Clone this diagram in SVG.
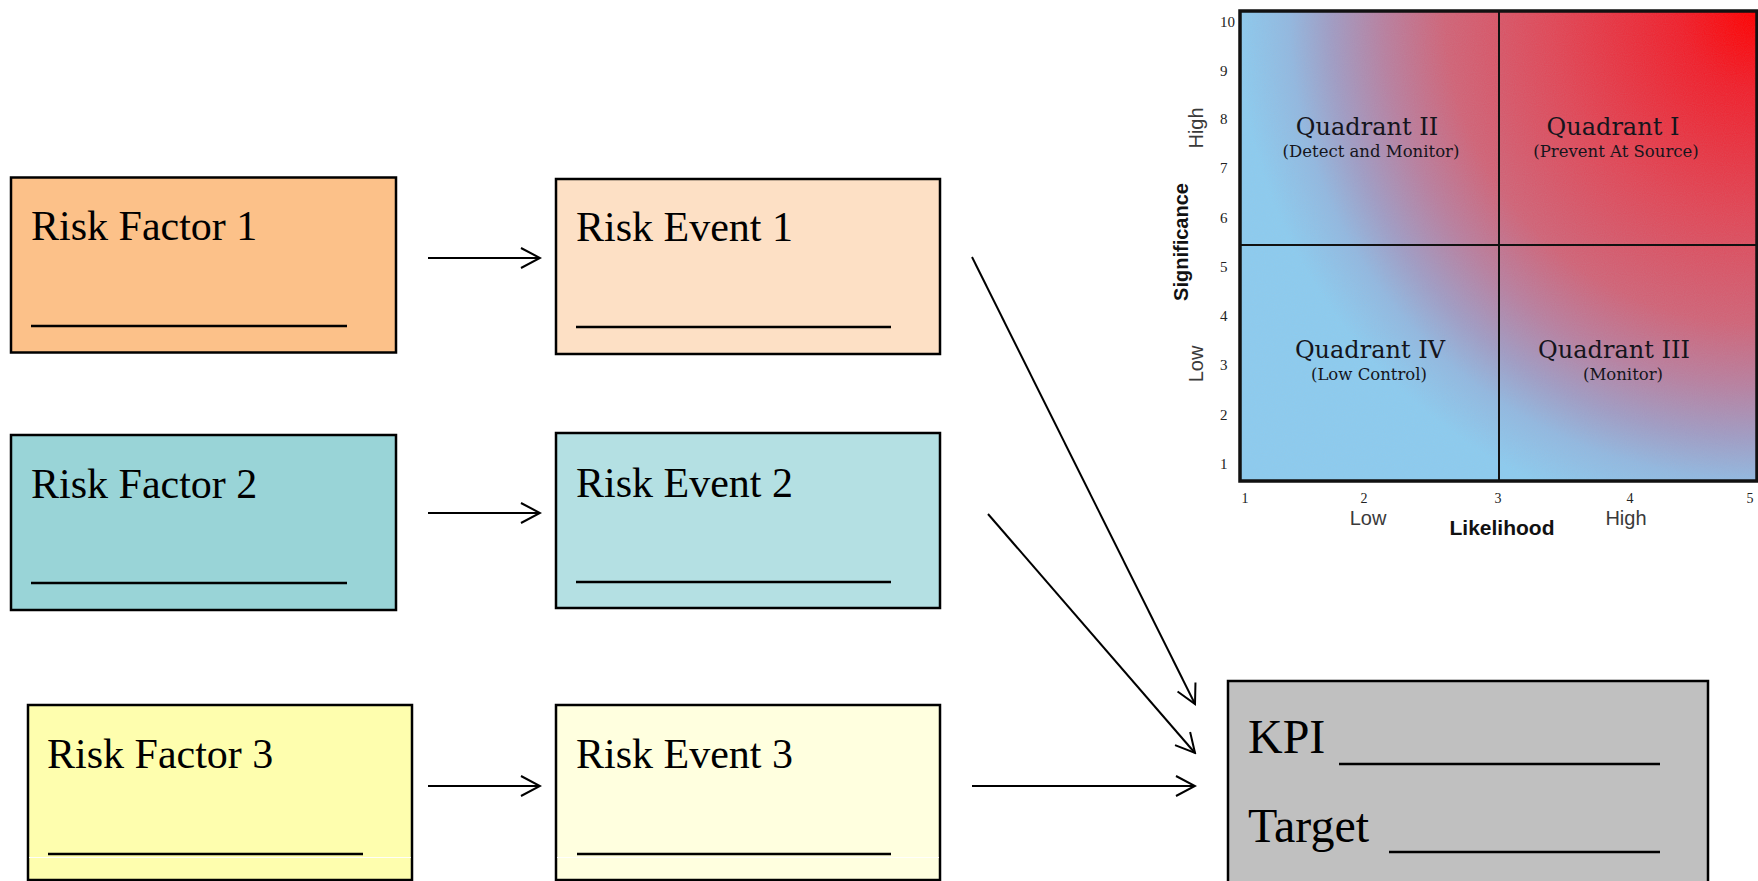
<svg xmlns="http://www.w3.org/2000/svg" width="1758" height="881" viewBox="0 0 1758 881">
  <defs>
    <style>
      .box { stroke: #000; stroke-width: 2.5; }
      .label { font-family: "Liberation Serif", "Times New Roman", serif; font-size: 42px; fill: #000; }
      .kpi { font-family: "Liberation Serif", "Times New Roman", serif; font-size: 48px; fill: #000; }
      .blank { stroke: #000; stroke-width: 2.6; }
      .sheen { stroke: #fff; stroke-width: 1; opacity: 0.9; }
      .conn { stroke: #000; stroke-width: 2; fill: none; marker-end: url(#chevron); }
      .qt { font-family: "DejaVu Serif", "Liberation Serif", serif; font-size: 24px; fill: #15151c; text-anchor: middle; }
      .qs { font-family: "DejaVu Serif", "Liberation Serif", serif; font-size: 16.5px; fill: #15151c; text-anchor: middle; }
      .tick { font-family: "Liberation Serif", "Times New Roman", serif; font-size: 15px; fill: #222; }
      .xtick { font-family: "Liberation Serif", "Times New Roman", serif; font-size: 14px; fill: #222; text-anchor: middle; }
      .axlvl { font-family: "Liberation Sans", Arial, sans-serif; font-size: 20px; fill: #3a3a3a; text-anchor: middle; }
      .axname { font-family: "Liberation Sans", Arial, sans-serif; font-size: 20px; font-weight: bold; fill: #111; text-anchor: middle; }
      .grid { stroke: #111; stroke-width: 2; }
    </style>
    <marker id="chevron" viewBox="0 0 22 22" refX="20" refY="11" markerWidth="22" markerHeight="22" markerUnits="userSpaceOnUse" orient="auto">
      <path d="M1,1 L20,11 L1,21" fill="none" stroke="#000" stroke-width="2"/>
    </marker>
    <radialGradient id="heat" gradientUnits="userSpaceOnUse" cx="1757" cy="11" r="520">
      <stop offset="0" stop-color="#ff0000"/>
      <stop offset="0.15" stop-color="#f0202c"/>
      <stop offset="0.4" stop-color="#e04858"/>
      <stop offset="0.6" stop-color="#d06478"/>
      <stop offset="0.72" stop-color="#b880a0"/>
      <stop offset="0.82" stop-color="#a09cc4"/>
      <stop offset="0.9" stop-color="#92b8e0"/>
      <stop offset="1" stop-color="#8ccbef"/>
    </radialGradient>
    <filter id="grain" x="0" y="0" width="100%" height="100%">
      <feTurbulence type="fractalNoise" baseFrequency="0.9" numOctaves="1" seed="3"/>
      <feColorMatrix type="matrix" values="0 0 0 0 0.5  0 0 0 0 0.5  0 0 0 0 0.5  0 0 0 -1.2 1"/>
    </filter>
  </defs>

  <rect width="1758" height="881" fill="#fff"/>

  <!-- risk matrix chart -->
  <g id="risk-matrix">
    <rect x="1240" y="11" width="517" height="470" fill="url(#heat)"/>
    <rect x="1240" y="11" width="517" height="470" filter="url(#grain)" opacity="0.12"/>
    <line class="grid" x1="1499" y1="11" x2="1499" y2="481"/>
    <line class="grid" x1="1240" y1="245" x2="1757" y2="245"/>
    <rect x="1240" y="11" width="517" height="470" fill="none" stroke="#111" stroke-width="3.5"/>

    <text class="qt" x="1367" y="135">Quadrant II</text>
    <text class="qs" x="1371" y="157">(Detect and Monitor)</text>
    <text class="qt" x="1613" y="135">Quadrant I</text>
    <text class="qs" x="1616" y="157">(Prevent At Source)</text>
    <text class="qt" x="1370" y="358">Quadrant IV</text>
    <text class="qs" x="1369" y="380">(Low Control)</text>
    <text class="qt" x="1614" y="358">Quadrant III</text>
    <text class="qs" x="1623" y="380">(Monitor)</text>

    <!-- significance scale -->
    <text class="tick" x="1220" y="27">10</text>
    <text class="tick" x="1220" y="76">9</text>
    <text class="tick" x="1220" y="124">8</text>
    <text class="tick" x="1220" y="173">7</text>
    <text class="tick" x="1220" y="223">6</text>
    <text class="tick" x="1220" y="272">5</text>
    <text class="tick" x="1220" y="321">4</text>
    <text class="tick" x="1220" y="370">3</text>
    <text class="tick" x="1220" y="420">2</text>
    <text class="tick" x="1220" y="469">1</text>

    <!-- likelihood scale -->
    <text class="xtick" x="1245" y="503">1</text>
    <text class="xtick" x="1364" y="503">2</text>
    <text class="xtick" x="1498" y="503">3</text>
    <text class="xtick" x="1630" y="503">4</text>
    <text class="xtick" x="1750" y="503">5</text>

    <text class="axlvl" x="1368" y="525">Low</text>
    <text class="axlvl" x="1626" y="525">High</text>
    <text class="axname" x="1502" y="535" style="font-size:21px">Likelihood</text>

    <text class="axlvl" transform="translate(1203,128) rotate(-90)">High</text>
    <text class="axlvl" transform="translate(1203,364) rotate(-90)">Low</text>
    <text class="axname" transform="translate(1188,242) rotate(-90)">Significance</text>
  </g>

  <!-- risk factors -->
  <g id="risk-factor-1">
    <rect class="box" x="11" y="177.5" width="385" height="175" fill="#fcc189"/>
    <text class="label" x="31" y="240">Risk Factor 1</text>
    <line class="blank" x1="31" y1="326" x2="347" y2="326"/>
  </g>
  <g id="risk-factor-2">
    <rect class="box" x="11" y="435" width="385" height="175" fill="#99d4d7"/>
    <text class="label" x="31" y="498">Risk Factor 2</text>
    <line class="blank" x1="31" y1="583" x2="347" y2="583"/>
  </g>
  <g id="risk-factor-3">
    <rect class="box" x="28" y="705" width="384" height="175" fill="#fefeae"/>
    <text class="label" x="47" y="768">Risk Factor 3</text>
    <line class="blank" x1="48" y1="854" x2="363" y2="854"/>
    <line class="sheen" x1="29" y1="857.5" x2="411" y2="857.5"/>
  </g>

  <!-- risk events -->
  <g id="risk-event-1">
    <rect class="box" x="556" y="179" width="384" height="175" fill="#fde0c5"/>
    <text class="label" x="576" y="241">Risk Event 1</text>
    <line class="blank" x1="576" y1="327" x2="891" y2="327"/>
  </g>
  <g id="risk-event-2">
    <rect class="box" x="556" y="433" width="384" height="175" fill="#b4e0e3"/>
    <text class="label" x="576" y="497">Risk Event 2</text>
    <line class="blank" x1="576" y1="582" x2="891" y2="582"/>
  </g>
  <g id="risk-event-3">
    <rect class="box" x="556" y="705" width="384" height="175" fill="#ffffdf"/>
    <text class="label" x="576" y="768">Risk Event 3</text>
    <line class="blank" x1="577" y1="854" x2="891" y2="854"/>
    <line class="sheen" x1="557" y1="857.5" x2="939" y2="857.5"/>
  </g>

  <!-- KPI card -->
  <g id="kpi">
    <rect class="box" x="1228" y="681" width="480" height="206" fill="#c0c0c0"/>
    <text class="kpi" x="1248" y="753">KPI</text>
    <line class="blank" x1="1339" y1="764" x2="1660" y2="764" stroke-width="3"/>
    <text class="kpi" x="1248" y="842">Target</text>
    <line class="blank" x1="1389" y1="852" x2="1660" y2="852" stroke-width="3"/>
  </g>

  <!-- connectors -->
  <g id="connectors">
    <line class="conn" x1="428" y1="258" x2="540" y2="258"/>
    <line class="conn" x1="428" y1="513" x2="540" y2="513"/>
    <line class="conn" x1="428" y1="786" x2="540" y2="786"/>
    <line class="conn" x1="972" y1="257" x2="1195" y2="704"/>
    <line class="conn" x1="988" y1="514" x2="1195" y2="753"/>
    <line class="conn" x1="972" y1="786" x2="1195" y2="786"/>
  </g>
</svg>
